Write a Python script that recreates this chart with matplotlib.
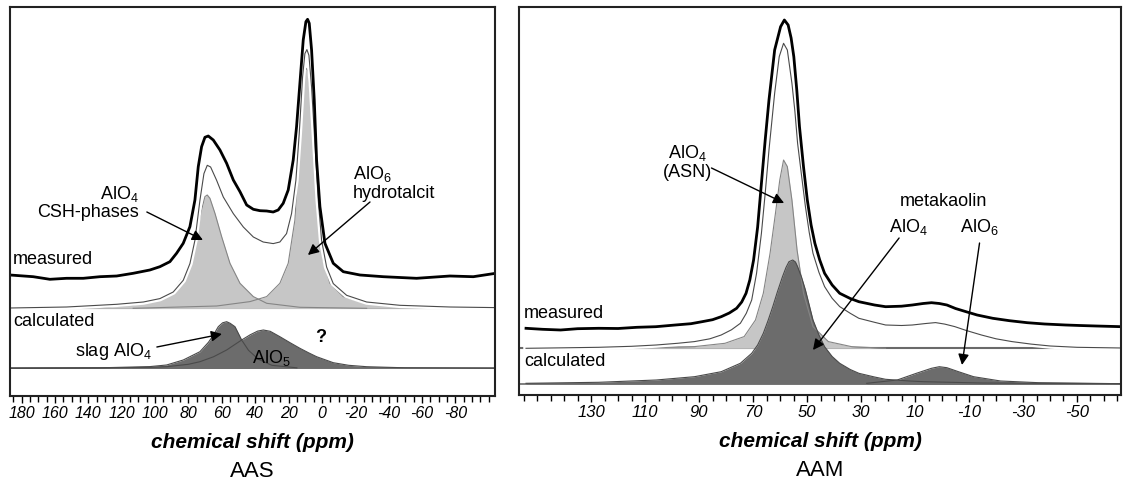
import numpy as np
import matplotlib
matplotlib.use('Agg')
import matplotlib.pyplot as plt
import matplotlib.patheffects as pe
from matplotlib.ticker import MultipleLocator

plt.rcParams['font.family'] = ['Liberation Sans', 'DejaVu Sans']
plt.rcParams['mathtext.fontset'] = 'custom'
plt.rcParams['mathtext.rm'] = 'Liberation Sans'
plt.rcParams['mathtext.it'] = 'Liberation Sans:italic'
plt.rcParams['mathtext.bf'] = 'Liberation Sans:bold'

# ---- AAS (left panel), chemical shift in ppm, intensity in a.u. ----
aas_ticks = [180, 160, 140, 120, 100, 80, 60, 40, 20, 0, -20, -40, -60, -80]

aas_meas_ppm = [186.9, 173.0, 163.0, 153.0, 143.0, 133.0, 123.0, 113.1, 103.1, 97.1, 91.1, 87.1, 83.1, 79.1,
                76.1, 74.1, 72.1, 70.1, 68.1, 65.1, 61.1, 57.1, 53.1, 49.1, 45.1, 41.1, 37.1, 33.1, 29.2,
                26.2, 23.2, 20.2, 17.2, 15.2, 13.2, 11.2, 9.6, 8.6, 7.6, 6.2, 4.6, 3.2, 1.2, -1.8, -6.8,
                -12.8, -22.8, -36.7, -56.7, -76.7, -90.7, -104.1]
aas_meas_int = [2, 0.3, -2.3, -1.3, -1.3, 0.3, 1, 3.7, 7, 10.3, 15.3, 23.7, 33.7, 50.3,
                77, 110.3, 130.3, 139.7, 141, 137, 127, 113.7, 97, 85.3, 72, 67.7, 66.3, 66, 65,
                67, 73.7, 87, 117, 150.3, 193.7, 237, 255.3, 257.7, 253.7, 227, 177, 117, 70.3, 33.7, 13.7,
                5.3, 2, 0.3, -1.3, 1, 0.3, 3.7]

aas_sum_ppm = [186.9, 153.0, 123.0, 107.0, 97.1, 89.1, 83.1, 79.1, 76.1, 73.1, 70.7, 68.7, 66.7, 63.1,
               59.1, 53.1, 47.1, 41.1, 35.2, 29.2, 25.2, 21.2, 18.2, 15.6, 13.6, 11.6, 10.2, 9.0, 7.8,
               6.2, 4.2, 2.2, 0.2, -2.8, -6.8, -14.8, -26.8, -46.7, -76.7, -104.1]
aas_sum_int = [0.3, 1.3, 4, 6.3, 9.7, 16.3, 28, 44.7, 68, 108, 134.7, 143, 141.3, 128,
               111.3, 94.7, 81.3, 71.3, 66.3, 64.7, 66.3, 74.7, 94.7, 128, 174.7, 231.3, 254.7, 258.7, 253,
               221.3, 164.7, 108, 68, 41.3, 24.7, 13, 6.3, 3, 1.3, 0.7]

csh_ppm = [186.9, 133.0, 113.1, 99.1, 89.1, 83.1, 79.1, 75.1, 72.1, 70.1, 68.7, 67.1, 64.1, 60.1,
           55.1, 49.1, 41.1, 33.1, 13.2, -26.8]
csh_int = [0, 1, 3.3, 8.3, 18.3, 31.7, 48.3, 75, 98.3, 111.7, 113.3, 110, 95, 71.7,
           45, 25, 11.7, 5, 1, 0]

htc_ppm = [113.1, 63.1, 43.1, 33.1, 25.2, 20.2, 16.2, 13.6, 11.6, 10.2, 9.2, 8.2, 6.2, 4.2,
           2.2, -0.8, -4.8, -12.8, -26.8, -56.7, -104.1]
htc_int = [0, 2.3, 6.7, 11.7, 25, 45, 88.3, 158.3, 215, 236.7, 240, 236.7, 201.7, 141.7,
           91.7, 48.3, 25, 11.7, 5, 1.7, 0]

slag_ppm = [186.9, 133, 103.1, 93.1, 83.1, 73.1, 68, 65.1, 62.1, 59.5, 57.1, 55, 52.1, 48.1, 44, 38, 30, 15]
slag_int = [0, 0.5, 1.7, 3.3, 8.3, 16.6, 26, 33, 41.6, 45.5, 46.6, 45, 41.6, 28.3, 18, 9, 3, 0.5]

alo5_ppm = [186.9, 133, 103.1, 93.1, 80, 73.1, 65, 57.1, 52, 48.1, 43, 38.5, 35.1, 31, 25.2, 19,
            13.2, 8, 3.2, -6.8, -16, -26.8, -50, -104.1]
alo5_int = [0, 0.3, 1, 1.6, 4, 6.6, 11.5, 18.3, 24, 28.3, 33.5, 37.2, 38.3, 37, 31.6, 25.5,
            20, 15.5, 11.6, 5.6, 3, 1.6, 0.5, 0]

# ---- AAM (right panel) ----
aam_ticks = [130, 110, 90, 70, 50, 30, 10, -10, -30, -50]

aam_meas_ppm = [154.1, 148, 141.3, 135, 127.2, 120, 113.0, 106, 98.8, 93, 88.9, 85, 81.8, 78.8,
                76.1, 74.2, 72.6, 71.2, 69.8, 68.3, 66.9, 65.5, 64.1, 62.0, 59.8, 58.4, 57.0, 55.9,
                54.9, 53.8, 52.8, 51.3, 49.9, 48.5, 47.1, 45.3, 43.5, 40.7, 37.9, 34, 30.8, 25,
                20.9, 15, 11.0, 7, 3.9, 1, -1.8, -5, -8.9, -13, -18.8, -25, -31.6, -38, -45.8,
                -51, -57.1, -66.7]
aam_meas_int = [1.7, 0.7, 0, 1.3, 1.7, 1.5, 2.7, 3.3, 5, 6.3, 8.3, 10.3, 13.3, 17,
                21.7, 28, 36.7, 50, 70, 103, 146.7, 190, 230, 280, 303.3, 310, 305, 292,
                273.3, 240, 203.3, 163, 130, 105, 86.7, 70, 56.7, 45, 36.7, 31.5, 28.3, 25,
                23.3, 23.8, 25, 26.5, 27.3, 26.5, 25, 21.5, 18.3, 15, 11.7, 9.3, 7.3, 6, 5,
                4.5, 4, 3.3]

aam_sum_ppm = [154.1, 140, 127.2, 115, 105.9, 98, 91.7, 86, 81.8, 78, 74.7, 72.5, 70.5, 68.7,
               66.9, 65.5, 64.1, 62.0, 60.3, 58.7, 57.3, 55.6, 54.5, 53.5, 52, 50.6, 49.2, 47.8,
               45.6, 43.5, 40.7, 37.9, 34, 30.8, 25, 20.9, 15, 11.0, 6, 2.4, -1, -4.7, -9,
               -14.6, -20, -25.9, -33, -40.1, -50, -66.7]
aam_sum_int = [0, 0.5, 1, 2, 3.3, 5, 6.7, 9.5, 13.3, 18.5, 25, 35, 48.3, 75,
               115, 155, 198.3, 255, 291.7, 305, 298.3, 265, 237, 205, 172, 141.7, 116, 95,
               76, 61.7, 50, 41.7, 35, 30, 26, 23.3, 22.8, 23.3, 24.8, 25.7, 24.2, 21.7, 17.8,
               13.3, 9.5, 6.7, 4.2, 2.3, 1, 0.3]

asn_ppm = [127.2, 91.7, 80.4, 73.3, 69.1, 66.2, 63.7, 61.7, 60.1, 58.7, 57.3, 55.6, 53.7, 51.3,
           47.8, 42.1, 33.6, 20.9]
asn_int = [0, 1.7, 5, 11.7, 28.3, 55, 95, 135, 168.3, 188.3, 181.7, 148.3, 98.3, 55,
           21.7, 6.7, 1.7, 0]

mk4_ppm = [154.1, 127.2, 105.9, 91.7, 81.8, 74.7, 70.5, 68.3, 66.2, 64.5, 62.7, 61, 59.1, 57.8,
           56.7, 55.3, 54.3, 53.5, 52, 50.6, 49.2, 47.8, 45.6, 43.5, 40.7, 37.9, 34, 30.8, 25,
           20.9, 12, 6.7, -14.6, -66.7]
mk4_int = [0.7, 1.7, 4, 7.3, 12.3, 20.7, 30.7, 39, 50.7, 63, 77.3, 92, 107.3, 116.5,
           122.3, 124, 122, 117.3, 106.5, 94, 79, 64, 49, 37.3, 27.5, 20.7, 14.5, 10.7, 7,
           4.7, 3, 2.3, 1, 0.3]

mk6_ppm = [27.9, 16.6, 9.5, 3.9, 1.0, -1.8, -6.1, -11.7, -21.7, -35.8, -66.7]
mk6_int = [0.7, 4, 10.7, 15.7, 17.3, 16.3, 12.3, 7.3, 3, 1.3, 0.3]

LIGHT = '#c6c6c6'
DARK = '#6c6c6c'
halo = [pe.Stroke(linewidth=4, foreground='white'), pe.Normal()]


def peak(ax, x, y, off, color, edge):
    y = np.asarray(y) + off
    ax.fill_between(x, off, y, color=color, lw=0)
    ax.plot(x, y, color=edge, lw=0.8)


def arrow(ax, tail, head):
    ax.annotate('', xy=head, xytext=tail,
                arrowprops=dict(arrowstyle='-|>', color='black', lw=1.0,
                                mutation_scale=16, shrinkA=0, shrinkB=0))


def frame(ax, ticks, fs, xlim, ylim, name):
    ax.set_xlim(*xlim)
    ax.set_ylim(*ylim)
    ax.set_xticks(ticks)
    ax.set_xticklabels([str(t) for t in ticks], fontstyle='italic', fontsize=fs)
    ax.xaxis.set_minor_locator(MultipleLocator(5))
    ax.tick_params(axis='x', which='major', length=5, width=1, pad=2, direction='out')
    ax.tick_params(axis='x', which='minor', length=4, width=1, direction='out')
    ax.set_yticks([])
    for s in ax.spines.values():
        s.set_linewidth(1.5)
        s.set_color('#222222')
    ax.text(0.5, -0.12, 'chemical shift (ppm)', transform=ax.transAxes, ha='center', va='center',
            fontsize=15, fontweight='bold', fontstyle='italic')
    ax.text(0.5, -0.195, name, transform=ax.transAxes, ha='center', va='center', fontsize=16)


fig = plt.figure(figsize=(11.23, 4.83), dpi=100)

# left: AAS
ax1 = fig.add_axes([10 / 1123, 87 / 483, 485 / 1123, 389 / 483])
up, low, meas = 87.7, 27.7, 119
ax1.axhline(up, color='#6a6a6a', lw=1.5, zorder=1)
ax1.axhline(low, color='#6a6a6a', lw=1.2, zorder=1)
ax1.fill_between(csh_ppm, up, np.asarray(csh_int) + up, color=LIGHT, lw=0)
ax1.fill_between(htc_ppm, up, np.asarray(htc_int) + up, color=LIGHT, lw=0)
ax1.plot(csh_ppm, np.asarray(csh_int) + up, color='#858585', lw=0.8)
ax1.plot(htc_ppm, np.asarray(htc_int) + up, color='#858585', lw=0.8)
ax1.plot(aas_sum_ppm, np.asarray(aas_sum_int) + up, color='#4a4a4a', lw=0.8, path_effects=halo)
ax1.plot(aas_meas_ppm, np.asarray(aas_meas_int) + meas, color='black', lw=2.0)
peak(ax1, slag_ppm, slag_int, low, DARK, '#4a4a4a')
peak(ax1, alo5_ppm, alo5_int, low, DARK, '#4a4a4a')
frame(ax1, aas_ticks, 11.5, (186.9, -103.7), (0, 389), 'AAS')

ax1.text(185.1, 136, 'measured', fontsize=13, va='center', ha='left')
ax1.text(185.1, 74, 'calculated', fontsize=13, va='center', ha='left')
ax1.text(109.6, 193.5, 'AlO$_4$\nCSH-phases', fontsize=13, ha='right', va='center',
         multialignment='right', linespacing=1.05)
arrow(ax1, (104.9, 184), (71.3, 156))
ax1.text(-18.6, 213, 'AlO$_6$\nhydrotalcit', fontsize=13, ha='left', va='center',
         multialignment='left', linespacing=1.05)
arrow(ax1, (-28.8, 194), (8.4, 141))
ax1.text(101.9, 44, 'slag AlO$_4$', fontsize=13, ha='right', va='center')
arrow(ax1, (98.9, 49), (59.9, 62))
ax1.text(30.6, 38, 'AlO$_5$', fontsize=13, ha='center', va='center')
ax1.text(0.6, 58, '?', fontsize=13, fontweight='bold', ha='center', va='center')

# right: AAM
ax2 = fig.add_axes([519 / 1123, 88 / 483, 602 / 1123, 388 / 483])
up, low, meas = 46.7, 11, 65
ax2.axhline(up, color='#6a6a6a', lw=1.5, zorder=1)
ax2.axhline(low, color='#6a6a6a', lw=1.2, zorder=1)
peak(ax2, asn_ppm, asn_int, up, LIGHT, '#858585')
ax2.plot(aam_sum_ppm, np.asarray(aam_sum_int) + up, color='#4a4a4a', lw=0.8, path_effects=halo)
ax2.plot(aam_meas_ppm, np.asarray(aam_meas_int) + meas, color='black', lw=2.0)
peak(ax2, mk4_ppm, mk4_int, low, DARK, '#4a4a4a')
peak(ax2, mk6_ppm, mk6_int, low, DARK, '#4a4a4a')
frame(ax2, aam_ticks, 12, (156.7, -66.3), (0, 388), 'AAM')

ax2.text(154.8, 82, 'measured', fontsize=13, va='center', ha='left')
ax2.text(154.8, 33, 'calculated', fontsize=13, va='center', ha='left')
ax2.text(94.4, 233, 'AlO$_4$\n(ASN)', fontsize=13, ha='center', va='center',
         multialignment='center', linespacing=1.05)
arrow(ax2, (85.4, 227), (58.5, 192))
ax2.text(-0.4, 193, 'metakaolin', fontsize=13, ha='center', va='center')
ax2.text(12.4, 168, 'AlO$_4$', fontsize=13, ha='center', va='center')
ax2.text(-13.9, 168, 'AlO$_6$', fontsize=13, ha='center', va='center')
arrow(ax2, (15.9, 157), (47.8, 45))
arrow(ax2, (-13.9, 152), (-7.4, 30))

fig.savefig('out.png', dpi=100)
